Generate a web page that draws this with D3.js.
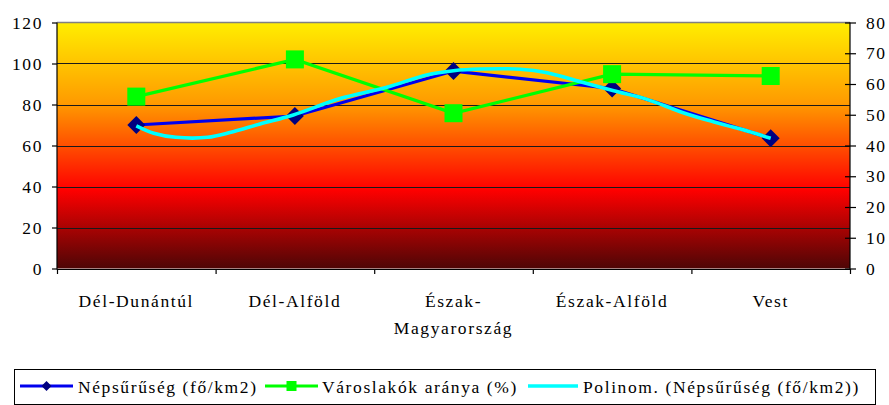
<!DOCTYPE html>
<html><head><meta charset="utf-8">
<script src="https://cdn.jsdelivr.net/npm/d3@7"></script>
<style>
body{margin:0;background:#fff;}
</style></head>
<body><svg id="c" width="889" height="405"></svg>
<script>
const categories = ["Dél-Dunántúl","Dél-Alföld","Észak-Magyarország","Észak-Alföld","Vest"];
const densityValues = [70, 74.4, 96.3, 87.8, 63.5];          // Népsűrűség (fő/km2), left axis
const urbanValues = [55.9, 68.0, 50.5, 63.2, 62.6];           // Városlakók aránya (%), right axis
const trendPos = [0, 0.11, 0.25, 0.45, 0.59, 0.78, 0.99, 1.29, 1.58, 1.83, 2.0, 2.17, 2.42, 2.59, 2.8, 3.01, 3.22, 3.43, 3.6, 3.81, 4.0];
const trendValues = [69.6, 66.0, 64.0, 64.0, 66.3, 70.5, 74.9, 83.0, 88.4, 94.4, 96.5, 97.3, 97.2, 95.5, 91.1, 86.7, 82.5, 76.5, 72.4, 68.0, 63.5];
const leftTicks = [0,20,40,60,80,100,120];
const rightTicks = [0,10,20,30,40,50,60,70,80];
const legendLabels = ["Népsűrűség (fő/km2)","Városlakók aránya (%)","Polinom. (Népsűrűség (fő/km2))"];

const svg = d3.select("#c");
const L = 57, R = 850, T = 22.5, B = 268.5;
const x = d3.scaleLinear().domain([-0.5, 4.5]).range([L, R]);
const yL = d3.scaleLinear().domain([0,120]).range([B, T]);
const yR = d3.scaleLinear().domain([0,80]).range([B, T]);

const defs = svg.append("defs");
const g = defs.append("linearGradient").attr("id","bg").attr("x1",0).attr("y1",0).attr("x2",0).attr("y2",1);
g.append("stop").attr("offset","0").attr("stop-color","#FFEE00");
g.append("stop").attr("offset","0.33").attr("stop-color","#FF9A00");
g.append("stop").attr("offset","0.68").attr("stop-color","#FF0000");
g.append("stop").attr("offset","1").attr("stop-color","#4E0606");

svg.append("rect").attr("x",L).attr("y",T).attr("width",R-L).attr("height",B-T).attr("fill","url(#bg)");
svg.append("line").attr("x1",L).attr("x2",R).attr("y1",T).attr("y2",T).attr("stroke","#808080").attr("stroke-width",1.5);

// gridlines
svg.append("g").selectAll("line").data(leftTicks.filter(d=>d>0 && d<120)).join("line")
  .attr("x1",L).attr("x2",R).attr("y1",d=>Math.round(yL(d))+0.5).attr("y2",d=>Math.round(yL(d))+0.5)
  .attr("stroke","#1a1a1a").attr("stroke-width",1);

const txt = (sel) => sel.style("font-family","Liberation Serif").style("font-size","17.5px").attr("fill","#000").style("letter-spacing","1.6px");

// axes
const axL = svg.append("g").attr("transform",`translate(${L},0)`)
  .call(d3.axisLeft(yL).tickValues(leftTicks).tickSize(5).tickPadding(9).tickSizeOuter(0));
const axR = svg.append("g").attr("transform",`translate(${R},0)`)
  .call(d3.axisRight(yR).tickValues(rightTicks).tickSize(6).tickPadding(10).tickSizeOuter(0));
axR.selectAll(".tick line").attr("x1",-5);
const axB = svg.append("g").attr("transform",`translate(0,${B+0.5})`)
  .call(d3.axisBottom(x).tickValues([-0.5,0.5,1.5,2.5,3.5,4.5]).tickSize(5).tickFormat("").tickSizeOuter(0));
[axL,axR,axB].forEach(a=>{
  a.selectAll("path,line").attr("stroke","#000").attr("stroke-width",1.2);
  txt(a.selectAll("text"));
});
axL.select(".domain").attr("d",`M0,${T}V${B+1}`);
axR.select(".domain").attr("d",`M0,${T}V${B+1}`);

// category labels
const cl = svg.append("g");
categories.forEach((c,i)=>{
  const lines = c.length > 14 ? [c.slice(0, c.indexOf("-")+1), c.slice(c.indexOf("-")+1)] : [c];
  lines.forEach((ln,j)=>{
    txt(cl.append("text").attr("x",x(i)).attr("y",307+j*27).attr("text-anchor","middle").text(ln));
  });
});

// series 1 line (blue)
const idx = categories.map((c,i)=>i);
svg.append("path").datum(idx)
  .attr("d", d3.line().x(i=>x(i)).y(i=>yL(densityValues[i])))
  .attr("fill","none").attr("stroke","#0000EE").attr("stroke-width",3.2);
const diamond = s => `M0,${-s}L${s},0L0,${s}L${-s},0Z`;
svg.append("g").selectAll("path").data(idx).join("path")
  .attr("transform",i=>`translate(${x(i)},${yL(densityValues[i])})`)
  .attr("d",diamond(9)).attr("fill","#000080");

// series 2 (green)
svg.append("path").datum(idx)
  .attr("d", d3.line().x(i=>x(i)).y(i=>yR(urbanValues[i])))
  .attr("fill","none").attr("stroke","#00FF00").attr("stroke-width",3.2);
svg.append("g").selectAll("rect").data(idx).join("rect")
  .attr("x",i=>x(i)-9).attr("y",i=>yR(urbanValues[i])-9).attr("width",18).attr("height",18)
  .attr("fill","#00FF00");

// trendline (cyan)
svg.append("path").datum(trendPos.map((p,k)=>[p,trendValues[k]]))
  .attr("d", d3.line().x(d=>x(d[0])).y(d=>yL(d[1])).curve(d3.curveCatmullRom))
  .attr("fill","none").attr("stroke","#00FFFF").attr("stroke-width",3.6);

// legend
const lg = svg.append("g");
lg.append("rect").attr("x",14.5).attr("y",369.5).attr("width",861).attr("height",35)
  .attr("fill","#fff").attr("stroke","#000").attr("stroke-width",1);
const ly = 386;
const items = [
  {x0:20,x1:73,tx:78,color:"#0000EE",mark:"diamond"},
  {x0:265,x1:318,tx:322,color:"#00FF00",mark:"square"},
  {x0:528,x1:578,tx:583,color:"#00FFFF",mark:null}
];
items.forEach((it,k)=>{
  lg.append("line").attr("x1",it.x0).attr("x2",it.x1).attr("y1",ly).attr("y2",ly)
    .attr("stroke",it.color).attr("stroke-width",k==2?3.6:3.2);
  const cx=(it.x0+it.x1)/2;
  if(it.mark==="diamond") lg.append("path").attr("transform",`translate(${cx},${ly})`).attr("d",diamond(5)).attr("fill","#000080");
  if(it.mark==="square") lg.append("rect").attr("x",cx-5).attr("y",ly-5).attr("width",10).attr("height",10).attr("fill","#00FF00");
  txt(lg.append("text").attr("x",it.tx).attr("y",393).text(legendLabels[k]));
});
</script></body></html>
